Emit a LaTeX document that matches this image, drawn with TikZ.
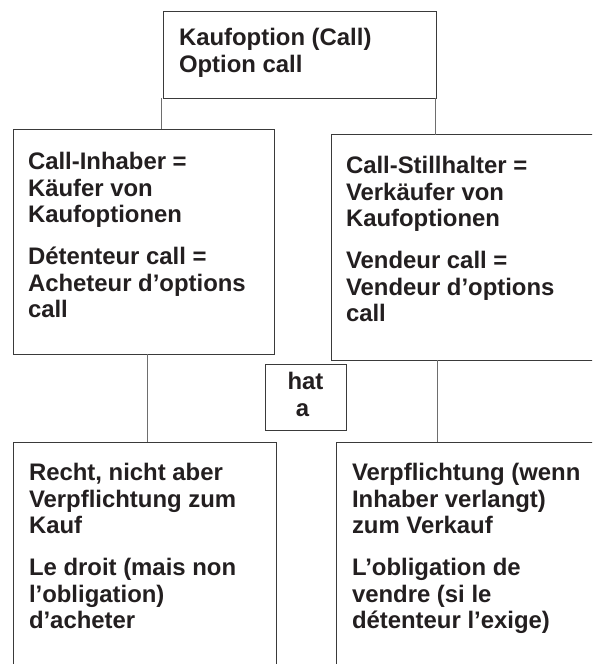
\documentclass[tikz,border=0pt]{standalone}
\usepackage{fontspec}
\setmainfont{Liberation Sans}
\definecolor{textcol}{HTML}{231F20}
\definecolor{boxcol}{HTML}{3A3A3A}
\definecolor{conncol}{HTML}{6E6E6E}
\tikzset{
  box/.style={draw=boxcol, line width=1pt, inner sep=0pt, outer sep=0pt, anchor=north west, rectangle},
  txt/.style={text=textcol, inner sep=0pt, outer sep=0pt, anchor=north west, align=left,
    font=\fontsize{23.9pt}{26.7pt}\selectfont\bfseries},
  conn/.style={draw=conncol, line width=1pt}
}
\begin{document}
\begin{tikzpicture}[x=1pt,y=-1pt]
\clip (0,0) rectangle (592,664);
\fill[white] (0,0) rectangle (592,664);
% boxes
\node[box, minimum width=273pt, minimum height=87pt] (top) at (163,11) {};
\node[box, minimum width=261pt, minimum height=225pt] (left) at (13,129) {};
\node[box, minimum width=290pt, minimum height=225.5pt] (right) at (331,134.5) {};
\node[box, minimum width=81pt, minimum height=66pt] (hat) at (265,364) {};
\node[box, minimum width=263pt, minimum height=260pt] (bl) at (13,442) {};
\node[box, minimum width=290pt, minimum height=260pt] (br) at (336,442) {};
% texts
\node[txt] (toptxt) at ([shift={(16,17)}]top.north west) {Kaufoption (Call)\\Option call};
\node[txt] (lefttxt) at ([shift={(15,23)}]left.north west) {Call-Inhaber =\\K\"aufer von\\Kaufoptionen\\[15pt]D\'etenteur call =\\Acheteur d’options\\call};
\node[txt] (righttxt) at ([shift={(15,21.5)}]right.north west) {Call-Stillhalter =\\Verk\"aufer von\\Kaufoptionen\\[15pt]Vendeur call =\\Vendeur d’options\\call};
\node[txt, anchor=north, align=center] (hattxt) at ([shift={(0,8)}]hat.north) {hat\\\hbox{a\kern6pt}};
\node[txt] (bltxt) at ([shift={(16,21)}]bl.north west) {Recht, nicht aber\\Verpflichtung zum\\Kauf\\[15pt]Le droit (mais non\\l’obligation)\\d’acheter};
\node[txt] (brtxt) at ([shift={(16,21)}]br.north west) {Verpflichtung (wenn\\Inhaber verlangt)\\zum Verkauf\\[15pt]L’obligation de\\vendre (si le\\d\'etenteur l’exige)};
% connectors
\draw[conn] ([xshift=-2pt]top.south west) -- ([xshift=-2pt]top.south west |- left.north);
\draw[conn] ([xshift=-1pt]top.south east) -- ([xshift=-1pt]top.south east |- right.north);
\draw[conn] ([xshift=3.5pt]left.south) -- ([xshift=3.5pt]left.south |- bl.north);
\draw[conn] ([xshift=106pt]right.south west) -- ([xshift=106pt]right.south west |- br.north);
\end{tikzpicture}
\end{document}
